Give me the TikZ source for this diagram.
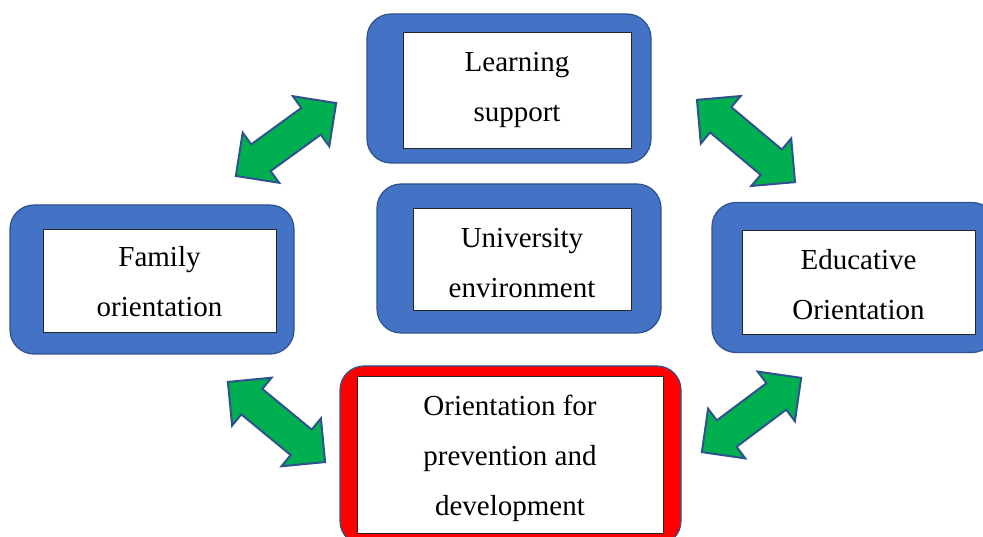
\documentclass[tikz,border=0pt]{standalone}
\usepackage{fontspec}
\setmainfont{Liberation Serif}
\usetikzlibrary{positioning, shapes.arrows}
\definecolor{boxblue}{HTML}{4472C4}
\definecolor{edgeblue}{HTML}{2F528F}
\definecolor{arrowgreen}{HTML}{00B050}

\begin{document}
\begin{tikzpicture}
    [x=1pt, y=-1pt,
    outerbox/.style={rectangle, rounded corners=24pt, draw=edgeblue, line width=1.2pt, fill=boxblue,
    minimum width=284pt, minimum height=149pt},
    redbox/.style={outerbox, fill=red},
    textbox/.style={rectangle, draw=black!85, line width=0.8pt, fill=white, align=center, inner sep=0pt,
    text depth=7pt, font=\fontsize{29}{50}\selectfont},
    link/.style={double arrow, draw=edgeblue, line width=2pt, fill=arrowgreen, inner sep=15.5pt,
    double arrow head extend=14.5pt, minimum width=60pt, double arrow tip angle=90}]
    \useasboundingbox (0,0) rectangle (983,537);
    \node [outerbox] (learning_frame) at (509,88.5) {};
    \node [textbox, minimum width=228pt, minimum height=116pt, text height=70pt] (learning) at (517,90)
    {Learning\\support};
    \node [outerbox] (university_frame) at (519,258.5) {};
    \node [textbox, minimum width=218pt, minimum height=102pt, text height=85pt] (university) at (522,259)
    {University\\environment};
    \node [outerbox] (family_frame) at (152,279.5) {};
    \node [textbox, minimum width=233pt, minimum height=103pt, text height=80pt] (family) at (159.5,280.5)
    {Family\\orientation};
    \node [outerbox, minimum height=150pt] (educative_frame) at (854,277.5) {};
    \node [textbox, minimum width=233pt, minimum height=104pt, text height=81pt] (educative) at (858.5,282.5)
    {Educative\\Orientation};
    \node [redbox, minimum width=341pt, minimum height=179pt] (prevention_frame) at (510.5,455.5) {};
    \node [textbox, minimum width=306pt, minimum height=157pt, text height=128.5pt] (prevention)
    at (510,454.5) {Orientation for\\prevention and\\development};

    \node [link, minimum height=124pt, rotate=36] (family_learning) at (286,139.5) {};
    \node [link, minimum height=128pt, rotate=-40] (learning_educative) at (746,141) {};
    \node [link, minimum height=126pt, rotate=-39.5] (family_prevention) at (276.5,422) {};
    \node [link, minimum height=124pt, rotate=36.8] (prevention_educative) at (751.5,415) {};
  \end{tikzpicture}
\end{document}
